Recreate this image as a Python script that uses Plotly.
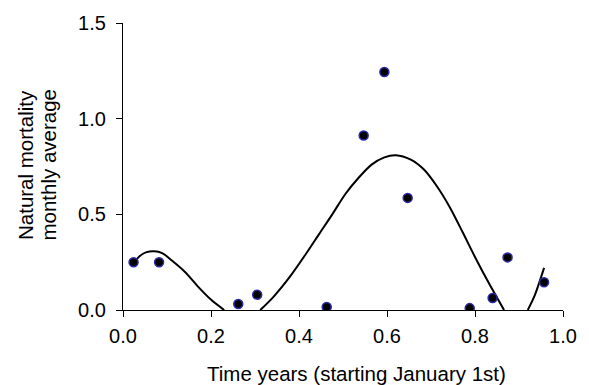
import plotly.graph_objects as go

# Observed monthly averages
obs_x = [0.024, 0.082, 0.262, 0.305, 0.463, 0.547, 0.594, 0.647, 0.788, 0.840, 0.874, 0.957]
obs_y = [0.250, 0.250, 0.031, 0.080, 0.016, 0.912, 1.244, 0.586, 0.010, 0.063, 0.275, 0.145]

# Fitted curve (shown only where positive)
fit_x = [0.026, 0.037, 0.052, 0.071, 0.089, 0.111, 0.141, 0.171, 0.201, 0.230, None,
         0.312, 0.342, 0.379, 0.416, 0.446, 0.476, 0.505, 0.535, 0.565, 0.594, 0.620,
         0.654, 0.684, 0.713, 0.743, 0.772, 0.802, 0.832, 0.866, None,
         0.920, 0.936, 0.957]
fit_y = [0.250, 0.280, 0.301, 0.307, 0.297, 0.259, 0.199, 0.121, 0.052, 0.0, None,
         0.0, 0.069, 0.173, 0.294, 0.398, 0.501, 0.605, 0.690, 0.760, 0.798, 0.809,
         0.786, 0.734, 0.648, 0.536, 0.406, 0.268, 0.138, 0.0, None,
         0.0, 0.078, 0.220]

x_ticks = [0.0, 0.2, 0.4, 0.6, 0.8, 1.0]
y_ticks = [0.0, 0.5, 1.0, 1.5]
x_title = "Time years (starting January 1st)"
y_title_lines = ["Natural mortality", "monthly average"]

FONT = "Liberation Sans, Arial, sans-serif"

fig = go.Figure()
fig.add_trace(go.Scatter(x=fit_x, y=fit_y, mode="lines", line=dict(color="black", width=2, shape="spline", smoothing=0.8),
                         connectgaps=False, hoverinfo="skip", showlegend=False))
fig.add_trace(go.Scatter(x=obs_x, y=obs_y, mode="markers",
                         marker=dict(size=9, color="black", line=dict(color="#2b2ba8", width=1.5)),
                         showlegend=False))

annotations = [
    dict(text=x_title, xref="paper", yref="paper",
         x=(361.7 - 123) / 449, y=-(374 - 310) / 289, xanchor="center", yanchor="middle",
         showarrow=False, font=dict(size=20.5)),
]
for px, line in zip([23, 46], y_title_lines):
    annotations.append(dict(text=line, xref="paper", yref="paper",
                            x=-(123 - px) / 449, y=(310 - 164) / 289, xanchor="center", yanchor="middle",
                            textangle=-90, showarrow=False, font=dict(size=20.5)))

fig.update_layout(
    width=589, height=385,
    margin=dict(l=123, r=17, t=21, b=75),
    paper_bgcolor="white", plot_bgcolor="white",
    font=dict(family=FONT, size=20, color="black"),
    xaxis=dict(range=[0, 1], tickvals=x_ticks, ticktext=[f"{v:.1f}" for v in x_ticks],
               showgrid=False, zeroline=False, showline=True, linecolor="black", linewidth=1.2,
               ticks="outside", ticklen=6, tickwidth=1.2, tickcolor="black", ticklabelstandoff=2),
    yaxis=dict(range=[0, 1.5], tickvals=y_ticks, ticktext=[f"{v:.1f}" for v in y_ticks],
               showgrid=False, zeroline=False, showline=True, linecolor="black", linewidth=1.2,
               ticks="outside", ticklen=6, tickwidth=1.2, tickcolor="black", ticklabelstandoff=6),
    annotations=annotations,
)

fig.write_html("out.html")
